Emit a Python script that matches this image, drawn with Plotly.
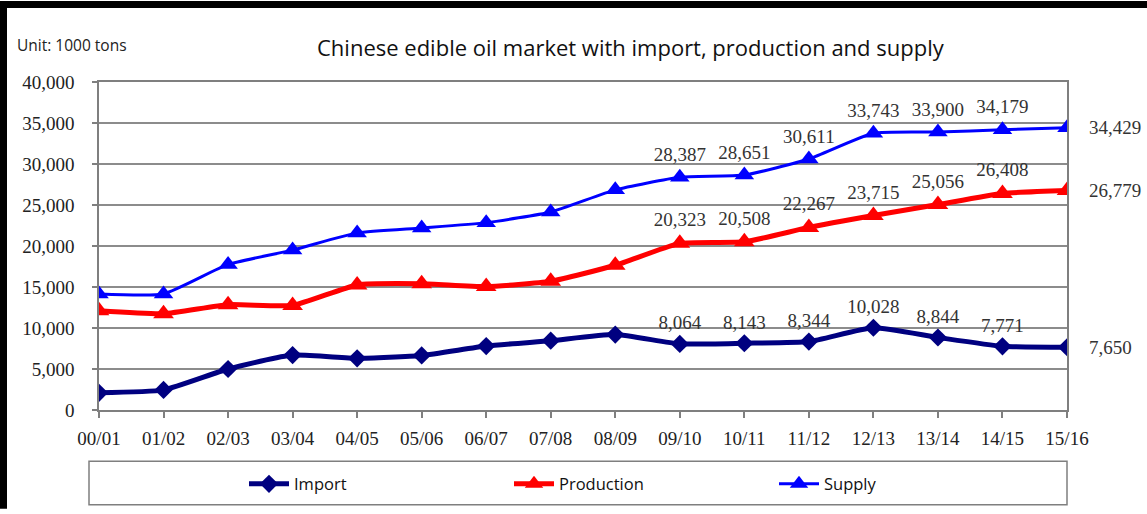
import plotly.graph_objects as go

categories = ["00/01", "01/02", "02/03", "03/04", "04/05", "05/06", "06/07", "07/08",
              "08/09", "09/10", "10/11", "11/12", "12/13", "13/14", "14/15", "15/16"]
import_vals = [2100, 2450, 5000, 6700, 6300, 6650, 7800, 8450, 9200, 8064, 8143, 8344,
               10028, 8844, 7771, 7650]
production_vals = [12100, 11750, 12850, 12750, 15250, 15400, 15050, 15700, 17650, 20323,
                   20508, 22267, 23715, 25056, 26408, 26779]
supply_vals = [14150, 14150, 17750, 19500, 21600, 22200, 22850, 24150, 26850, 28387,
               28651, 30611, 33743, 33900, 34179, 34429]
label_start = 9  # data labels shown from 09/10 onward
y_ticks = [0, 5000, 10000, 15000, 20000, 25000, 30000, 35000, 40000]

W, H = 1147, 514
ML, MR, MT, MB = 99, 80, 82, 100
PW, PH = W - ML - MR, H - MT - MB


def px2x(px):
    return (px - ML) / PW


def py2y(py):
    return (H - MB - py) / PH


def labels(vals):
    out = []
    for i, v in enumerate(vals):
        if label_start <= i < len(vals) - 1:
            out.append(f"{v:,}")
        else:
            out.append("")
    return out


serif = "Liberation Serif, Times New Roman, serif"
sans = "Open Sans, Noto Sans, sans-serif"

fig = go.Figure()
fig.add_trace(go.Scatter(
    x=categories, y=import_vals, name="Import", mode="lines+markers+text",
    line=dict(color="#000080", width=5, shape="spline", smoothing=0.5),
    marker=dict(symbol="diamond", size=14, color="#000080"),
    text=labels(import_vals), textposition="top center",
    textfont=dict(family=serif, size=19, color="#333333"),
))
fig.add_trace(go.Scatter(
    x=categories, y=production_vals, name="Production", mode="lines+markers+text",
    line=dict(color="#ff0000", width=5, shape="spline", smoothing=0.5),
    marker=dict(symbol="triangle-up", size=18, color="#ff0000"),
    text=labels(production_vals), textposition="top center",
    textfont=dict(family=serif, size=19, color="#333333"),
))
fig.add_trace(go.Scatter(
    x=categories, y=supply_vals, name="Supply", mode="lines+markers+text",
    line=dict(color="#0000ff", width=3, shape="spline", smoothing=0.5),
    marker=dict(symbol="triangle-up", size=17, color="#0000ff"),
    text=labels(supply_vals), textposition="top center",
    textfont=dict(family=serif, size=19, color="#333333"),
))

annotations = []
for vals in (import_vals, production_vals, supply_vals):
    annotations.append(dict(
        x=categories[-1], y=vals[-1], xref="x", yref="y", text=f"{vals[-1]:,}",
        showarrow=False, xanchor="left", yanchor="middle", xshift=20,
        font=dict(family=serif, size=19, color="#333333"),
    ))
annotations.append(dict(
    x=px2x(15), y=py2y(45), xref="paper", yref="paper", text="Unit: 1000 tons",
    showarrow=False, xanchor="left", yanchor="middle",
    font=dict(family=sans, size=15.5, color="#222222"),
))
annotations.append(dict(
    x=px2x(631), y=py2y(47), xref="paper", yref="paper",
    text="Chinese edible oil market with import, production and supply",
    showarrow=False, xanchor="center", yanchor="middle",
    font=dict(family=sans, size=22, color="#111111"),
))

shapes = [
    # legend box
    dict(type="rect", xref="paper", yref="paper", x0=px2x(89), x1=px2x(1067),
         y0=py2y(510), y1=py2y(466), line=dict(color="#7f7f7f", width=1.5),
         fillcolor="rgba(0,0,0,0)"),
    # black page border (left and top)
    dict(type="line", xref="paper", yref="paper", x0=px2x(3.5), x1=px2x(3.5),
         y0=py2y(0), y1=py2y(514), line=dict(color="black", width=7)),
    dict(type="line", xref="paper", yref="paper", x0=px2x(0), x1=px2x(1147),
         y0=py2y(3.5), y1=py2y(3.5), line=dict(color="black", width=7)),
]

fig.update_layout(
    width=W, height=H,
    margin=dict(l=ML, r=MR, t=MT, b=MB),
    paper_bgcolor="white", plot_bgcolor="white",
    showlegend=True,
    legend=dict(orientation="h", x=px2x(244), y=py2y(489), xanchor="left",
                yanchor="middle", entrywidth=210, entrywidthmode="pixels",
                font=dict(family=sans, size=16.5, color="#111111"),
                bgcolor="rgba(0,0,0,0)", itemwidth=40),
    annotations=annotations,
    shapes=shapes,
)
fig.update_xaxes(
    type="category", range=[0, len(categories) - 1],
    showline=True, linecolor="#7f7f7f", linewidth=1.5, mirror=True,
    ticks="outside", ticklen=6, tickcolor="#7f7f7f", tickwidth=1.5,
    showgrid=False, tickfont=dict(family=serif, size=19, color="#222222"),
    ticklabelstandoff=4,
)
fig.update_yaxes(
    range=[0, 40000], tickvals=y_ticks, tickformat=",",
    showline=True, linecolor="#7f7f7f", linewidth=1.5, mirror=True,
    ticks="outside", ticklen=5, tickcolor="#7f7f7f", tickwidth=1.5,
    showgrid=True, gridcolor="#8c8c8c", gridwidth=1.5, zeroline=False,
    tickfont=dict(family=serif, size=19, color="#222222"),
    ticklabelstandoff=14,
)

fig.write_html(
    "out.html",
    config={"displayModeBar": False},
    post_script="document.body.style.margin='0';document.body.style.padding='0';",
)
